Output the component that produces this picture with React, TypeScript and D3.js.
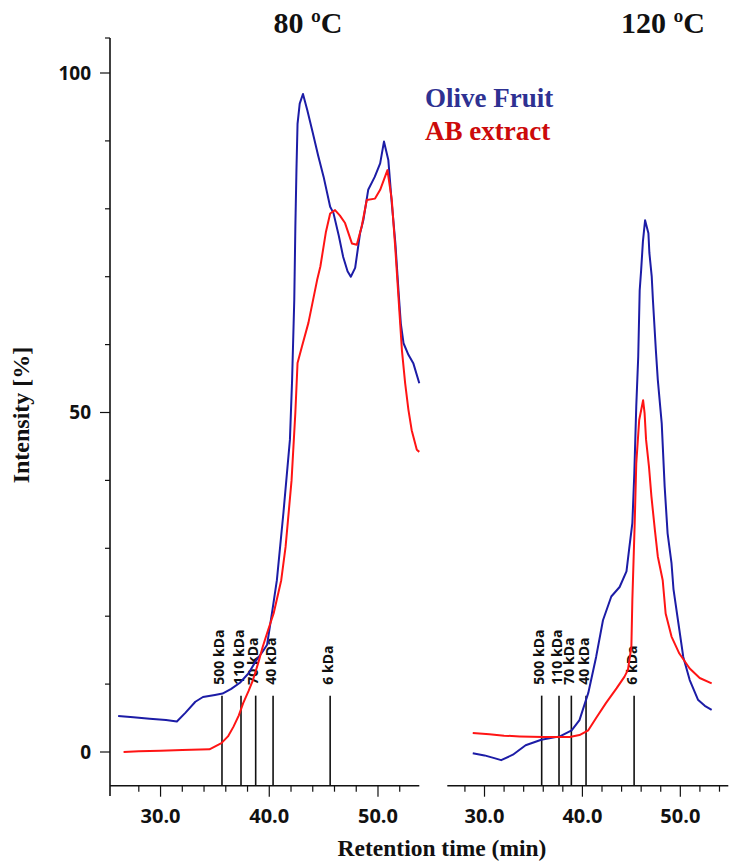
import React from "react";
import * as d3 from "d3";

// ---- data (retention time [min], intensity [%]) ----
const olive80: [number, number][] = [
  [26.1, 5.3], [27.5, 5.1], [29.0, 4.9], [30.5, 4.7], [31.5, 4.5], [32.3, 5.8], [33.2, 7.4],
  [33.9, 8.1], [35.0, 8.4], [35.7, 8.6], [36.5, 9.3], [37.3, 10.2], [38.1, 11.6], [38.8, 13.5],
  [39.4, 14.8], [39.8, 15.8], [40.3, 21.0], [40.7, 25.3], [41.3, 35.2], [41.9, 46.0], [42.1, 54.8],
  [42.3, 66.6], [42.4, 77.4], [42.5, 85.7], [42.6, 92.5], [42.8, 95.5], [43.1, 96.9], [43.5, 94.5],
  [44.0, 91.2], [44.5, 87.8], [45.0, 84.7], [45.6, 80.3], [45.9, 79.4], [46.4, 76.0], [46.8, 72.9],
  [47.2, 70.8], [47.5, 70.0], [47.9, 71.3], [48.35, 76.4], [48.65, 78.3], [49.1, 82.8], [49.7, 84.7],
  [50.2, 86.7], [50.55, 89.9], [50.95, 87.2], [51.27, 80.8], [51.6, 74.9], [51.9, 67.6], [52.1, 63.1],
  [52.35, 60.2], [52.8, 58.5], [53.26, 57.2], [53.8, 54.3],
];
const ab80: [number, number][] = [
  [26.6, 0.0], [28.0, 0.1], [30.0, 0.2], [32.0, 0.3], [34.5, 0.4], [35.6, 1.3], [36.2, 2.3],
  [36.7, 3.7], [37.2, 5.4], [37.6, 7.2], [38.1, 9.0], [38.5, 10.6], [39.0, 13.2], [39.4, 15.5],
  [39.9, 18.0], [40.4, 20.4], [41.1, 25.3], [41.5, 30.2], [42.05, 40.0], [42.4, 50.0], [42.6, 57.3],
  [43.0, 59.7], [43.6, 63.2], [44.4, 69.5], [44.7, 71.5], [45.2, 76.5], [45.6, 79.3], [46.05, 79.8],
  [46.5, 79.0], [46.97, 77.9], [47.6, 74.9], [48.05, 74.7], [48.5, 77.4], [48.97, 81.3], [49.73, 81.5],
  [50.2, 82.8], [50.87, 85.7], [51.27, 81.3], [51.6, 74.0], [52.0, 64.1], [52.2, 59.2], [52.5, 54.3],
  [52.8, 50.4], [53.1, 47.4], [53.57, 44.5], [53.8, 44.2],
];
const olive120: [number, number][] = [
  [28.8, -0.2], [30.0, -0.5], [31.0, -0.9], [31.7, -1.2], [32.9, -0.4], [34.2, 1.0], [35.8, 1.8],
  [37.7, 2.3], [38.9, 3.2], [39.7, 4.7], [40.6, 8.7], [41.4, 14.0], [42.1, 19.4], [42.95, 22.9],
  [43.8, 24.3], [44.5, 26.6], [44.8, 30.2], [45.1, 33.7], [45.3, 41.0], [45.5, 50.9], [45.7, 58.2],
  [45.85, 68.0], [46.0, 71.0], [46.18, 75.2], [46.4, 78.3], [46.74, 76.4], [46.84, 73.5], [47.08, 70.0],
  [47.2, 66.6], [47.5, 59.2], [47.7, 54.8], [48.1, 48.4], [48.4, 39.1], [48.7, 32.2], [49.1, 27.8],
  [49.3, 24.0], [49.8, 19.0], [50.3, 14.0], [50.96, 10.6], [51.8, 7.7], [52.5, 6.8], [53.2, 6.2],
];
const ab120: [number, number][] = [
  [28.8, 2.8], [30.5, 2.6], [32.0, 2.4], [33.6, 2.3], [36.0, 2.2], [38.7, 2.2], [39.7, 2.5],
  [40.6, 3.2], [41.4, 5.0], [42.4, 7.2], [43.5, 9.4], [44.3, 11.1], [44.65, 12.1], [45.0, 15.5],
  [45.1, 22.4], [45.34, 33.7], [45.5, 42.5], [45.8, 48.9], [46.2, 51.8], [46.35, 49.9], [46.5, 46.0],
  [46.8, 42.0], [47.05, 37.6], [47.4, 32.7], [47.7, 28.8], [48.2, 25.3], [48.5, 20.4], [49.1, 17.0],
  [49.9, 14.5], [50.96, 12.3], [51.98, 10.9], [53.2, 10.1],
];

const markerLabels = ["500 kDa", "110 kDa", "70 kDa", "40 kDa", "6 kDa"];
const markers80 = [35.65, 37.4, 38.75, 40.35, 45.6];
const markers120 = [35.84, 37.61, 38.87, 40.37, 45.28];

const xMajorTicks = [30, 40, 50];
const xMinorTicks = [28, 32, 34, 36, 38, 42, 44, 46, 48, 52, 54];
const yMajorTicks = [0, 50, 100];
const yMinorTicks = [10, 20, 30, 40, 60, 70, 80, 90];

const panelTitles = ["80 ºC", "120 ºC"];
const seriesNames = ["Olive Fruit", "AB extract"];

// ---- layout ----
const W = 735;
const H = 865;
const AXIS_Y = 785.7;
const MARKER_TOP = 8.3;
const BLUE = "#1c1ca6";
const RED = "#ff1414";

const yScale = d3.scaleLinear().domain([0, 100]).range([752, 73]);
const xLeft = d3.scaleLinear().domain([25.35, 53.8]).range([110, 419.3]);
const xRight = d3.scaleLinear().domain([26.2, 54.9]).range([447.3, 728.3]);

const sans = "'Open Sans', 'DejaVu Sans', sans-serif";
const serif = "'Liberation Serif', 'Times New Roman', serif";

function Panel({ x, blue, red, markers }: { x: d3.ScaleLinear<number, number>; blue: [number, number][]; red: [number, number][]; markers: number[] }) {
  const line = d3
    .line<[number, number]>()
    .x((d) => x(d[0]))
    .y((d) => yScale(d[1]))
    .curve(d3.curveLinear);
  const [x0, x1] = x.range();
  return (
    <g>
      {/* x axis */}
      <line x1={x0} x2={x1} y1={AXIS_Y} y2={AXIS_Y} stroke="#111" strokeWidth={1.6} />
      {xMinorTicks
        .filter((t) => x(t) >= x0 && x(t) <= x1)
        .map((t) => (
          <line key={"mi" + t} x1={x(t)} x2={x(t)} y1={AXIS_Y} y2={AXIS_Y + 6} stroke="#111" strokeWidth={1.2} />
        ))}
      {xMajorTicks.map((t) => (
        <g key={"ma" + t}>
          <line x1={x(t)} x2={x(t)} y1={AXIS_Y} y2={AXIS_Y + 11} stroke="#111" strokeWidth={1.2} />
          <text x={x(t)} y={823} textAnchor="middle" fontFamily={sans} fontWeight={700} fontSize={20} fill="#111">
            {t.toFixed(1)}
          </text>
        </g>
      ))}
      {/* marker lines */}
      {markers.map((t, i) => (
        <g key={"mk" + i}>
          <line x1={x(t)} x2={x(t)} y1={yScale(MARKER_TOP)} y2={AXIS_Y} stroke="#111" strokeWidth={1.6} />
          <text
            transform={`translate(${x(t) - 3},${yScale(MARKER_TOP) - 11}) rotate(-90)`}
            dominantBaseline="central"
            fontFamily={sans}
            fontSize={14}
            fontWeight={700}
            fill="#111"
          >
            {markerLabels[i]}
          </text>
        </g>
      ))}
      <path d={line(blue) || ""} fill="none" stroke={BLUE} strokeWidth={2} strokeLinejoin="round" />
      <path d={line(red) || ""} fill="none" stroke={RED} strokeWidth={2} strokeLinejoin="round" />
    </g>
  );
}

export default function App() {
  return (
    <svg width={W} height={H} style={{ position: "absolute", left: 0, top: 0, background: "#fff" }}>
      <rect width={W} height={H} fill="#fff" />
      {/* y axis */}
      <line x1={110} x2={110} y1={38} y2={796} stroke="#111" strokeWidth={1.6} />
      <line x1={105} x2={110} y1={38} y2={38} stroke="#111" strokeWidth={1.2} />
      {yMinorTicks.map((v) => (
        <line key={"ym" + v} x1={105} x2={110} y1={yScale(v)} y2={yScale(v)} stroke="#111" strokeWidth={1.2} />
      ))}
      {yMajorTicks.map((v) => (
        <g key={"yM" + v}>
          <line x1={100} x2={110} y1={yScale(v)} y2={yScale(v)} stroke="#111" strokeWidth={1.2} />
          <text x={91} y={yScale(v)} dy="0.36em" textAnchor="end" fontFamily={sans} fontWeight={700} fontSize={19} fill="#111">
            {v}
          </text>
        </g>
      ))}
      <text
        transform="translate(29,415) rotate(-90)"
        textAnchor="middle"
        fontFamily={serif}
        fontWeight={700}
        fontSize={24}
        fill="#111"
      >
        Intensity [%]
      </text>

      <Panel x={xLeft} blue={olive80} red={ab80} markers={markers80} />
      <Panel x={xRight} blue={olive120} red={ab120} markers={markers120} />

      {/* titles */}
      <text x={308} y={33} textAnchor="middle" fontFamily={serif} fontWeight={700} fontSize={30} fill="#111">
        {panelTitles[0]}
      </text>
      <text x={663} y={33} textAnchor="middle" fontFamily={serif} fontWeight={700} fontSize={30} fill="#111">
        {panelTitles[1]}
      </text>

      {/* legend */}
      <text x={425} y={107} fontFamily={serif} fontWeight={700} fontSize={27} fill="#2e3192">
        {seriesNames[0]}
      </text>
      <text x={425} y={140} fontFamily={serif} fontWeight={700} fontSize={27} fill="#cc0a0a">
        {seriesNames[1]}
      </text>

      {/* x axis title */}
      <text x={442} y={856} textAnchor="middle" fontFamily={serif} fontWeight={700} fontSize={23.5} fill="#111">
        Retention time (min)
      </text>
    </svg>
  );
}
